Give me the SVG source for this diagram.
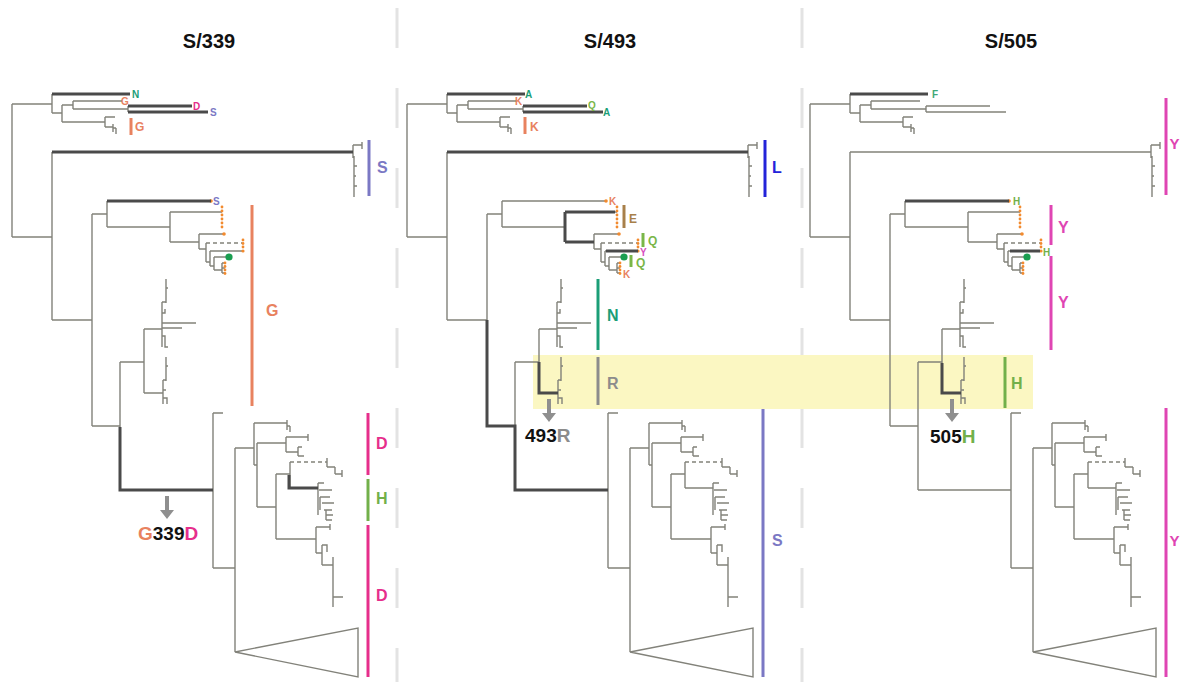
<svg xmlns="http://www.w3.org/2000/svg" xmlns:xlink="http://www.w3.org/1999/xlink" width="1181" height="682" viewBox="0 0 1181 682">
<style>
.t{fill:none;stroke:#82827a;stroke-width:1.4}
.k{fill:none;stroke:#4a4a4a;stroke-width:3}
.ds{stroke-dasharray:4 3}
.sep{stroke:#e3e3e3;stroke-width:3;stroke-dasharray:40 40}
.bar{stroke-width:3}
.lb{font-family:"Liberation Sans",Arial,sans-serif;font-weight:bold}
.s{font-size:10px}
.m{font-size:12px}
.b{font-size:16px}
.ttl{font-size:20px;fill:#111;text-anchor:middle}
.num{font-size:19px}
.od{fill:#f28a2e}
.arrow{fill:#8f8f8f}
</style>
<defs>
<g id="tree">
<path class="t" d="M12,104 V237 M12,104 H52 M12,237 H52
M52,94 V113 M52,94 H130 M52,113 H62 M62,105 V122 M62,105 H73 M73,101 V109 M73,101 H122 M73,109 H128 M128,106 V112 M128,106 H192 M128,112 H208
M62,122 H105 M105,117 V127 M105,117 H115 M105,127 H113 M113,124 V132 M113,128 H116 M116,128 V134
M52,152 V320 M52,152 H353 M353,145 V158 M353,145 H362 M362,142 V149 M354,156 V197 M354,166 H357 M354,176 H356 M354,186 H357
M52,320 H92 M92,214 V426 M92,214 H107 M107,201 V227 M107,201 H211 M107,227 H170 M170,212 V242 M170,212 H222 M170,242 H199
M199,234 V249 M199,234 H224 M199,249 H206 M206,243 V262 M206,262 H210 M210,251 V266 M210,251 H242 M210,266 H214 M214,257 V270 M214,257 H229 M214,270 H222 M222,263 V273 M222,263 H225 M222,268 H225 M222,273 H225
M92,426 H120 M120,362 V490 M120,362 H144 M144,329 V393 M144,329 H162 M144,393 H163
M162,302 V347 M162,302 H166 M166,279 V303 M166,288 H168 M162,313 H165 V309 M162,323 H196 M162,328 H182 M162,336 H165 V341 M165,341 V347 H168
M163,380 V404 M163,380 H166 M166,357 V381 M166,366 H168 M163,390 H166 M163,398 H167 V404
M120,490 H213 M213,413 V568 M213,413 H223 M213,568 H235 M235,448 V652 M235,448 H254
M254,423 V465 M254,465 H257 M257,443 V507 M254,423 H287 M287,420 V430 M287,426 H290 M290,426 V432
M257,443 H286 M286,437 V452 M286,437 H308 M308,434 V441 M286,452 H298 M298,447 V456 M298,447 H302 M298,456 H304
M257,507 H276 M276,474 V539 M276,474 H290 M290,462 V488
M327,458 V467 M327,467 H335 M335,467 V474 M335,474 H342 M342,470 V477
M290,488 H318 M318,483 V515 M318,483 H324 M319,490 H332 M320,497 V510 M320,497 H330 M322,503 H334 M324,510 H332 M326,510 V520 M326,515 H333 M326,520 H332
M276,539 H316 M316,527 V553 M316,527 H330 M330,524 V530 M316,553 H322 M322,545 V565 M322,545 H327 V552 M322,565 H333 M333,557 V607 M333,597 H343
M235,652 L358,628 L358,677 Z"/>
<path class="t ds" d="M206,243 H242 M290,462 H327"/>
<g class="od">
<circle cx="211" cy="201" r="1.8"/>
<circle cx="222" cy="207" r="1.4"/><circle cx="222" cy="211" r="1.4"/><circle cx="222" cy="215" r="1.4"/><circle cx="222" cy="219" r="1.4"/><circle cx="222" cy="223" r="1.4"/><circle cx="222" cy="227" r="1.4"/>
<circle cx="224" cy="234" r="1.8"/>
<circle cx="243" cy="240" r="1.4"/><circle cx="243" cy="243.5" r="1.4"/><circle cx="243" cy="247" r="1.4"/><circle cx="243" cy="251" r="1.6"/>
<circle cx="225" cy="263" r="1.4"/><circle cx="225" cy="266.5" r="1.4"/><circle cx="225" cy="270" r="1.4"/><circle cx="225" cy="273.5" r="1.4"/>
</g>
<circle cx="229" cy="257" r="3.6" fill="#1a9e50"/>
</g>
<path id="arr" d="M-2,0 H2 V14 H7 L0,23 L-7,14 H-2 Z"/>
</defs>

<g id="separators">
<line class="sep" x1="397" y1="8" x2="397" y2="682"/>
<line class="sep" x1="802" y1="8" x2="802" y2="682"/>
</g>

<rect id="highlight" x="533" y="355" width="500" height="54" fill="#fbf7c2"/>

<g id="panel-339">
<text class="lb ttl" x="209" y="48">S/339</text>
<use xlink:href="#tree" href="#tree"/>
<path class="k" d="M52,94 H130 M128,106 H192 M128,112 H208 M52,152 H353 M107,201 H211 M120,427 V490 H213 M289,475 V488 H318"/>
<g class="lb s">
<text x="132" y="98" fill="#1b9e77">N</text>
<text x="121" y="105" fill="#e8825f">G</text>
<text x="193" y="110" fill="#e62e8b">D</text>
<text x="210" y="116" fill="#7b78c4">S</text>
<text x="213" y="205" fill="#7b78c4">S</text>
</g>
<line class="bar" x1="131" y1="118" x2="131" y2="135" stroke="#e8825f"/>
<text class="lb m" x="135" y="131" fill="#e8825f">G</text>
<line class="bar" x1="369" y1="140" x2="369" y2="196" stroke="#7b78c4"/>
<text class="lb b" x="377" y="173" fill="#7b78c4">S</text>
<line class="bar" x1="252" y1="205" x2="252" y2="406" stroke="#e8825f"/>
<text class="lb b" x="266" y="316" fill="#e8825f">G</text>
<line class="bar" x1="368" y1="413" x2="368" y2="475" stroke="#e62e8b"/>
<text class="lb b" x="376" y="449" fill="#e62e8b">D</text>
<line class="bar" x1="368" y1="479" x2="368" y2="521" stroke="#72b04a"/>
<text class="lb b" x="376" y="504" fill="#72b04a">H</text>
<line class="bar" x1="368" y1="525" x2="368" y2="677" stroke="#e62e8b"/>
<text class="lb b" x="376" y="601" fill="#e62e8b">D</text>
<use xlink:href="#arr" href="#arr" x="167" y="496" class="arrow"/>
<text class="lb num" x="138" y="540"><tspan fill="#e8825f">G</tspan><tspan fill="#111">339</tspan><tspan fill="#e62e8b">D</tspan></text>
</g>

<g id="panel-493">
<text class="lb ttl" x="610" y="48">S/493</text>
<use xlink:href="#tree" href="#tree" x="395"/>
<g transform="translate(395,0)">
<path class="k" d="M52,94 H130 M128,106 H192 M128,112 H208 M52,152 H353 M92,320 V426 H120 V490 H213 M170,212 V242 M170,212 H220 M170,242 H199 M144,362 V393 H163 M211,251 H243"/>
</g>
<g class="lb s">
<text x="525" y="98" fill="#1b9e77">A</text>
<text x="515" y="105" fill="#e8825f">K</text>
<text x="588" y="109" fill="#7ab648">Q</text>
<text x="603" y="116" fill="#1b9e77">A</text>
<text x="609" y="205" fill="#e8825f">K</text>
<text x="640" y="256" fill="#d84fc0">Y</text>
<text x="623" y="278" fill="#e8825f">K</text>
</g>
<line class="bar" x1="525" y1="117" x2="525" y2="134" stroke="#e8825f"/>
<text class="lb m" x="530" y="131" fill="#e8825f">K</text>
<line class="bar" x1="765" y1="140" x2="765" y2="197" stroke="#2323d9"/>
<text class="lb b" x="772" y="173" fill="#2323d9">L</text>
<line class="bar" x1="624" y1="205" x2="624" y2="228" stroke="#a8804a"/>
<text class="lb m" x="629" y="223" fill="#a8804a">E</text>
<line class="bar" x1="643" y1="233" x2="643" y2="247" stroke="#7ab648"/>
<text class="lb m" x="648" y="245" fill="#7ab648">Q</text>
<line class="bar" x1="631" y1="255" x2="631" y2="267" stroke="#7ab648"/>
<text class="lb m" x="636" y="267" fill="#7ab648">Q</text>
<line class="bar" x1="598" y1="279" x2="598" y2="350" stroke="#1b9e77"/>
<text class="lb b" x="607" y="321" fill="#1b9e77">N</text>
<line class="bar" x1="598" y1="357" x2="598" y2="405" stroke="#8c8c8c"/>
<text class="lb b" x="607" y="389" fill="#8c8c8c">R</text>
<line class="bar" x1="763" y1="409" x2="763" y2="677" stroke="#7b78c4"/>
<text class="lb b" x="772" y="546" fill="#7b78c4">S</text>
<use xlink:href="#arr" href="#arr" x="549" y="399" class="arrow"/>
<text class="lb num" x="525" y="442"><tspan fill="#111">493</tspan><tspan fill="#8c8c8c">R</tspan></text>
</g>

<g id="panel-505">
<text class="lb ttl" x="1011" y="48">S/505</text>
<use xlink:href="#tree" href="#tree" x="798"/>
<g transform="translate(798,0)">
<path class="k" d="M52,94 H130 M107,201 H211 M212,251 H242 M144,363 V393 H163"/>
</g>
<g class="lb s">
<text x="932" y="98" fill="#3fa877">F</text>
<text x="1013" y="205" fill="#72b04a">H</text>
<text x="1043" y="256" fill="#72b04a">H</text>
</g>
<line class="bar" x1="1166" y1="98" x2="1166" y2="195" stroke="#df45b3"/>
<text class="lb" x="1169.5" y="149" font-size="15" fill="#df45b3">Y</text>
<line class="bar" x1="1051" y1="205" x2="1051" y2="245" stroke="#df45b3"/>
<text class="lb b" x="1058" y="233" fill="#df45b3">Y</text>
<line class="bar" x1="1051" y1="256" x2="1051" y2="350" stroke="#df45b3"/>
<text class="lb b" x="1058" y="308" fill="#df45b3">Y</text>
<line class="bar" x1="1005" y1="357" x2="1005" y2="408" stroke="#72b04a"/>
<text class="lb b" x="1011" y="389" fill="#72b04a">H</text>
<line class="bar" x1="1166" y1="408" x2="1166" y2="677" stroke="#df45b3"/>
<text class="lb" x="1169.5" y="546" font-size="15" fill="#df45b3">Y</text>
<use xlink:href="#arr" href="#arr" x="952" y="399" class="arrow"/>
<text class="lb num" x="930" y="443"><tspan fill="#111">505</tspan><tspan fill="#72b04a">H</tspan></text>
</g>
</svg>
